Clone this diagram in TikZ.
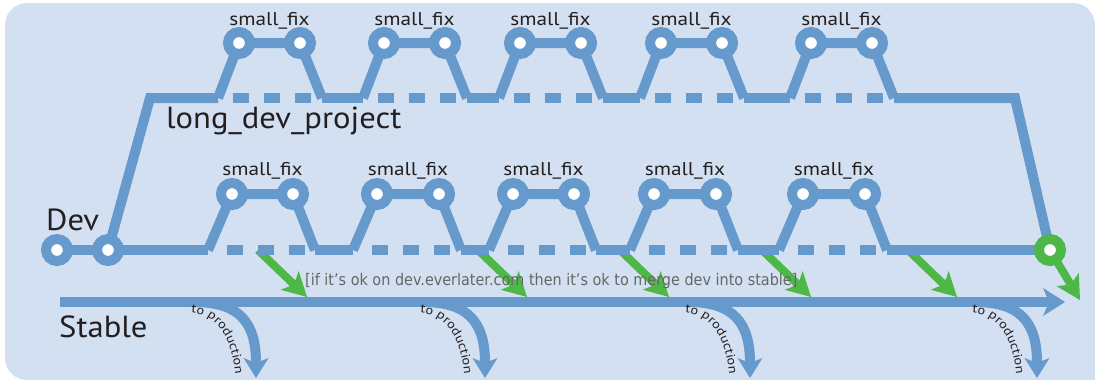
\documentclass[tikz,border=0pt]{standalone}
\usepackage{fontspec}
\setmainfont{PT Sans}
\newfontfamily\bigfont[FakeStretch=1.07]{PT Sans}
\newfontfamily\fixfont[FakeStretch=1.15]{PT Sans}
\newfontfamily\verafont[FakeStretch=0.9]{DejaVu Sans}
\usetikzlibrary{arrows.meta,decorations.text}
\pgfdeclarelayer{back}
\pgfdeclarelayer{lines}
\pgfsetlayers{back,lines,main}
\definecolor{bgc}{HTML}{D3E0F1}
\definecolor{trk}{HTML}{6699CC}
\definecolor{grn}{HTML}{4DB848}
\definecolor{ink}{HTML}{231F20}
\definecolor{note}{HTML}{666666}
\newcommand\tpfont{\fixfont\fontsize{12.5}{14}\selectfont}
\begin{document}
\begin{tikzpicture}[x=1pt,y=-1pt,
  track/.style={draw=trk,line width=10pt},
  dashtrack/.style={track,dash pattern=on 16pt off 15pt},
  commit/.style={circle,fill=white,draw=trk,line width=10pt,minimum size=22pt,inner sep=0pt,outer sep=0pt},
  gcommit/.style={commit,draw=grn},
  merge/.style={draw=grn,line width=8pt,-{Stealth[length=24pt,width=26pt,inset=6pt,line width=0pt]}},
  mainline/.style={track,-{Stealth[length=22pt,width=28pt,inset=6pt,line width=0pt]}},
  release/.style={track,-{Stealth[length=20pt,width=25pt,inset=5pt,line width=0pt]}},
  fixlbl/.style={inner sep=0pt,anchor=base,text=ink,font=\fixfont\fontsize{18.5}{20}\selectfont},
  biglbl/.style={inner sep=0pt,anchor=base west,text=ink,font=\bigfont\fontsize{30.5}{34}\selectfont},
  notelbl/.style={inner sep=0pt,anchor=base west,text=note,font=\verafont\fontsize{16}{18}\selectfont},
]
\useasboundingbox (0,0) rectangle (1095,380);
\begin{pgfonlayer}{back}
  \fill[bgc,rounded corners=22pt] (5,3) rectangle (1095,380);
  \fill[bgc] (1050,330) rectangle (1095,380);
\end{pgfonlayer}

% commits
\node[commit] (dv1) at (57,250) {};
\node[commit] (dv2) at (108,250) {};
\node[gcommit] (gm) at (1050,250) {};
\foreach \i/\a/\b in {1/232/293,2/377/439,3/513/574,4/654/716,5/803/865}{
  \node[commit] (la\i) at (\a,194) {};
  \node[commit] (lb\i) at (\b,194) {};
  \coordinate (lu\i) at (\a-24,250);
  \coordinate (ld\i) at (\b+22,250);
  \coordinate (ls\i) at (\a-5,250);
  \coordinate (le\i) at (\b+12,250);
  \node[fixlbl] (lf\i) at ({(\a+\b)/2},175) {small\_fix};
}
\foreach \i/\a/\b in {1/239/300,2/384/445,3/520/581,4/661/722,5/811/872}{
  \node[commit] (ua\i) at (\a,43) {};
  \node[commit] (ub\i) at (\b,43) {};
  \coordinate (uu\i) at (\a-21,98);
  \coordinate (ud\i) at (\b+22,98);
  \coordinate (us\i) at (\a-6,98);
  \coordinate (ue\i) at (\b+13,98);
  \node[fixlbl] (uf\i) at ({(\a+\b)/2},25) {small\_fix};
}
\coordinate (ul) at (150,98);
\coordinate (ur) at (1015,98);
\coordinate (st0) at (60,302);
\coordinate (st1) at (1065,302);
\coordinate (gme) at (1080,300);
\foreach \i/\x in {1/258,2/478,3/620,4/762,5/908}{
  \coordinate (gs\i) at (\x,250);
  \coordinate (ge\i) at (\x+49,297);
}
\foreach \i/\x in {1/256,2/485,3/750,4/1037}{
  \coordinate (ps\i) at (\x-62,302);
  \coordinate (pe\i) at (\x,378);
  \coordinate (ts\i) at (\x-65,313);
  \coordinate (te\i) at (\x-20,392);
}

\begin{pgfonlayer}{lines}
  % stable line and releases
  \draw[mainline] (st0) -- (st1);
  \foreach \i in {1,...,4}{
    \draw[release] (ps\i) .. controls +(46,0) and +(0,-55) .. (pe\i);
    \path[decorate,decoration={text along path,text={|\tpfont|to production},
      text color=ink,text align={left indent=0pt}}]
      (ts\i) .. controls +(30,2) and +(0,-48) .. (te\i);
  }
  % merges into stable
  \foreach \i in {1,...,5}{ \draw[merge] (gs\i) -- (ge\i); }
  \draw[merge] (gm.center) -- (gme);
  % lower track
  \draw[track] (dv1.center) -- (dv2.center);
  \draw[track] (dv2.center) -- (lu1);
  \foreach \i in {1,...,5}{
    \draw[track] (lu\i) -- (la\i.center) -- (lb\i.center) -- (ld\i);
    \draw[dashtrack] (ls\i) -- (le\i);
  }
  \foreach \i/\j in {1/2,2/3,3/4,4/5}{ \draw[track] (ld\i) -- (lu\j); }
  \draw[track] (ld5) -- (gm.center);
  % upper track
  \draw[track] (dv2.center) -- (ul) -- (uu1);
  \foreach \i in {1,...,5}{
    \draw[track] (uu\i) -- (ua\i.center) -- (ub\i.center) -- (ud\i);
    \draw[dashtrack] (us\i) -- (ue\i);
  }
  \foreach \i/\j in {1/2,2/3,3/4,4/5}{ \draw[track] (ud\i) -- (uu\j); }
  \draw[track] (ud5) -- (ur) -- (gm.center);
\end{pgfonlayer}

\node[biglbl] (devlbl) at (46,230) {Dev};
\node[biglbl] (stablelbl) at (59,337) {Stable};
\node[biglbl] (longlbl) at (166,128) {long\_dev\_project};
\node[notelbl] (notetxt) at (305,285) {[if it’s ok on dev.everlater.com then it’s ok to merge dev into stable]};
\end{tikzpicture}
\end{document}
